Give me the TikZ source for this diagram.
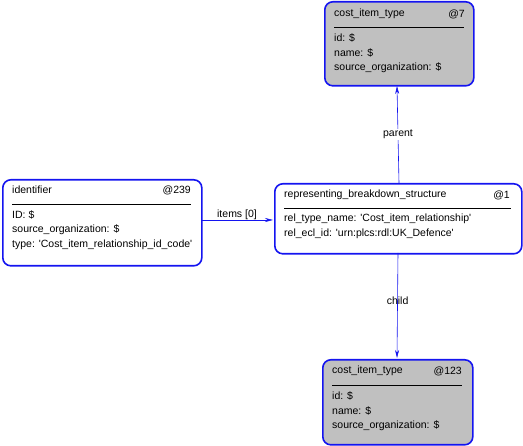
\documentclass[tikz,border=0pt]{standalone}
\usepackage{fontspec}
\setmainfont{Liberation Sans}
\usetikzlibrary{arrows.meta}
\definecolor{boxblue}{RGB}{20,20,240}
\definecolor{boxgray}{RGB}{192,192,192}
\newcommand\sq{\textquotesingle}
\tikzset{
  ent/.style={draw=boxblue, line width=1.6pt, rounded corners=8pt, anchor=north west, inner sep=0pt},
  txt/.style={anchor=west, inner sep=0pt, font=\fontsize{10.5}{12}\selectfont},
  rtxt/.style={anchor=east, inner sep=0pt, font=\fontsize{10.5}{12}\selectfont},
  lbl/.style={inner sep=1pt, font=\fontsize{10.5}{12}\selectfont, fill=white},
  conn/.style={draw=boxblue, line width=0.6pt, -{Stealth[length=8pt,width=4pt]}}
}
\begin{document}
\begin{tikzpicture}[x=1pt,y=-1pt]
\useasboundingbox (0,0) rectangle (523,446);
% top box
\node[ent, fill=boxgray, minimum width=149pt, minimum height=84pt] (top) at (324,1) {};
\node[txt] (t1) at (334,14) {cost\_item\_type};
\node[rtxt] (t2) at (465,14) {@7};
\draw (334,27) -- (464,27);
\node[txt] (t3) at (334,38) {id: \$};
\node[txt] (t4) at (334,53) {name: \$};
\node[txt] (t5) at (334,68) {source\_organization: \$};
% identifier
\node[ent, fill=white, minimum width=199pt, minimum height=86pt] (idb) at (2,179) {};
\node[txt] (i1) at (12,190) {identifier};
\node[rtxt] (i2) at (191,190) {@239};
\draw (12,204) -- (191,204);
\node[txt] (i3) at (12,215) {ID: \$};
\node[txt] (i4) at (12,230) {source\_organization: \$};
\node[txt] (i5) at (12,245) {type: \sq Cost\_item\_relationship\_id\_code\sq};
% rbs
\node[ent, fill=white, minimum width=247pt, minimum height=70pt] (rbs) at (274,183) {};
\node[txt] (r1) at (284,195) {representing\_breakdown\_structure};
\node[rtxt] (r2) at (510,195) {@1};
\draw (284,208) -- (511,208);
\node[txt] (r3) at (284,219) {rel\_type\_name: \sq Cost\_item\_relationship\sq};
\node[txt] (r4) at (284,234) {rel\_ecl\_id: \sq urn:plcs:rdl:UK\_Defence\sq};
% bottom box
\node[ent, fill=boxgray, minimum width=150pt, minimum height=85pt] (bot) at (322,359) {};
\node[txt] (b1) at (332,371) {cost\_item\_type};
\node[rtxt] (b2) at (462,371) {@123};
\draw (332,385) -- (462,385);
\node[txt] (b3) at (332,396) {id: \$};
\node[txt] (b4) at (332,411) {name: \$};
\node[txt] (b5) at (332,426) {source\_organization: \$};
% connectors
\coordinate (p1) at (399,183);
\coordinate (p2) at (397,86);
\coordinate (c1) at (398,253);
\coordinate (c2) at (397,358);
\coordinate (a1) at (201,220);
\coordinate (a2) at (273,220);
\draw[conn] (p1) -- node[lbl, pos=0.5] (pl) {parent} (p2);
\draw[conn] (c1) -- node[lbl, pos=0.45, fill=none] (cl) {child} (c2);
\draw[conn] (a1) -- (a2);
\node[inner sep=0pt, font=\fontsize{10.5}{12}\selectfont] (al) at (237,215) {items [0]};
\end{tikzpicture}
\end{document}
